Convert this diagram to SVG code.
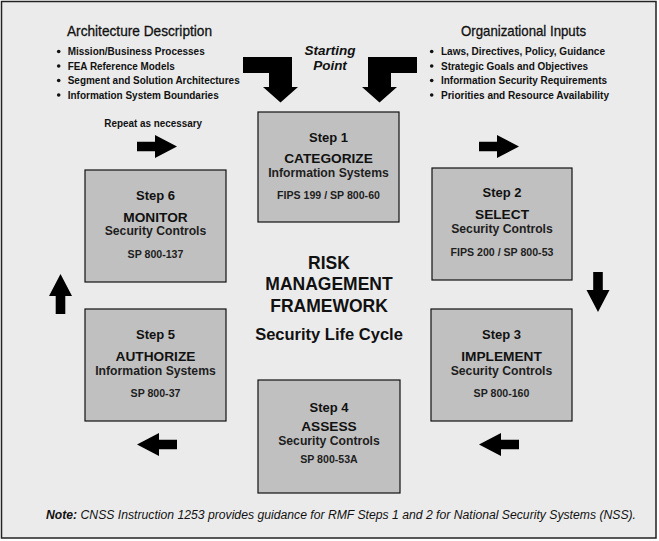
<svg xmlns="http://www.w3.org/2000/svg" xmlns:xlink="http://www.w3.org/1999/xlink" width="659" height="541" viewBox="0 0 659 541">
<style>
.frame{fill:#ebebeb;stroke:#222;stroke-width:1.5}
.box{fill:#c0c0c0;stroke:#111;stroke-width:1.2}
.t{font-family:"Liberation Sans",Arial,sans-serif;font-weight:bold;text-anchor:middle;fill:#111}
.step{font-size:13px}
.title{font-size:13.7px}
.sub{font-size:12.2px;fill:#1e1e1e}
.ref{font-size:10.6px;fill:#1e1e1e}
.hdr{font-family:"Liberation Sans Narrow","Liberation Sans",Arial,sans-serif;font-size:14.5px;fill:#111;stroke:#111;stroke-width:0.3}
.bl{font-family:"Liberation Sans Narrow","Liberation Sans",Arial,sans-serif;font-size:11.6px;font-weight:bold;fill:#111}
.dot{fill:#111}
.arr{fill:#000}
.center{font-family:"Liberation Sans",Arial,sans-serif;font-weight:bold;text-anchor:middle;fill:#111}
</style>
<defs>
<polygon id="sa" points="0,-4.8 18,-4.8 18,-11.5 40,0 18,11.5 18,4.8 0,4.8"/>
</defs>
<rect class="frame" x="1.5" y="1.5" width="654.5" height="536.5"/>

<g id="architecture-description">
<text class="hdr" x="67" y="36" textLength="145" lengthAdjust="spacingAndGlyphs">Architecture Description</text>
<circle class="dot" cx="58.7" cy="51.5" r="1.8"/>
<circle class="dot" cx="58.7" cy="66" r="1.8"/>
<circle class="dot" cx="58.7" cy="80.5" r="1.8"/>
<circle class="dot" cx="58.7" cy="95" r="1.8"/>
<text class="bl" x="67.7" y="55" textLength="137" lengthAdjust="spacingAndGlyphs">Mission/Business Processes</text>
<text class="bl" x="67.7" y="69.5" textLength="107" lengthAdjust="spacingAndGlyphs">FEA Reference Models</text>
<text class="bl" x="67.7" y="84" textLength="172" lengthAdjust="spacingAndGlyphs">Segment and Solution Architectures</text>
<text class="bl" x="67.7" y="98.5" textLength="151" lengthAdjust="spacingAndGlyphs">Information System Boundaries</text>
</g>

<g id="organizational-inputs">
<text class="hdr" x="461" y="36" textLength="125" lengthAdjust="spacingAndGlyphs">Organizational Inputs</text>
<circle class="dot" cx="431.7" cy="51.5" r="1.8"/>
<circle class="dot" cx="431.7" cy="66" r="1.8"/>
<circle class="dot" cx="431.7" cy="80.5" r="1.8"/>
<circle class="dot" cx="431.7" cy="95" r="1.8"/>
<text class="bl" x="441" y="55" textLength="164" lengthAdjust="spacingAndGlyphs">Laws, Directives, Policy, Guidance</text>
<text class="bl" x="441" y="69.5" textLength="147" lengthAdjust="spacingAndGlyphs">Strategic Goals and Objectives</text>
<text class="bl" x="441" y="84" textLength="166" lengthAdjust="spacingAndGlyphs">Information Security Requirements</text>
<text class="bl" x="441" y="98.5" textLength="168" lengthAdjust="spacingAndGlyphs">Priorities and Resource Availability</text>
</g>

<g id="starting-point">
<text class="center" font-style="italic" font-size="13.5" x="330" y="54.5">Starting</text>
<text class="center" font-style="italic" font-size="13.5" x="330" y="69.5">Point</text>
</g>

<g id="repeat-label">
<text class="bl" x="104.3" y="127" textLength="97.7" lengthAdjust="spacingAndGlyphs">Repeat as necessary</text>
</g>

<g id="connectors">
<polygon class="arr" points="243,57 292,57 292,87 298,87 280.5,102.5 263,87 269,87 269,73 243,73"/>
<polygon class="arr" points="417,57 368,57 368,87 362,87 379.5,102.5 397,87 391,87 391,73 417,73"/>
<use href="#sa" xlink:href="#sa" class="arr" transform="translate(137,146.5)"/>
<use href="#sa" xlink:href="#sa" class="arr" transform="translate(479,146.5)"/>
<use href="#sa" xlink:href="#sa" class="arr" transform="translate(598,272) rotate(90)"/>
<use href="#sa" xlink:href="#sa" class="arr" transform="translate(519,444.5) rotate(180)"/>
<use href="#sa" xlink:href="#sa" class="arr" transform="translate(177,444.5) rotate(180)"/>
<use href="#sa" xlink:href="#sa" class="arr" transform="translate(60.5,314) rotate(-90)"/>
</g>

<g id="step1">
<rect class="box" x="258" y="112" width="141" height="110"/>
<text class="t step" x="328.5" y="142">Step 1</text>
<text class="t title" x="328.5" y="163">CATEGORIZE</text>
<text class="t sub" x="328.5" y="177">Information Systems</text>
<text class="t ref" x="328.5" y="199">FIPS 199 / SP 800-60</text>
</g>

<g id="step2">
<rect class="box" x="432" y="168" width="140" height="112"/>
<text class="t step" x="502" y="197">Step 2</text>
<text class="t title" x="502" y="219">SELECT</text>
<text class="t sub" x="502" y="233">Security Controls</text>
<text class="t ref" x="502" y="256">FIPS 200 / SP 800-53</text>
</g>

<g id="step3">
<rect class="box" x="431" y="309" width="141" height="112"/>
<text class="t step" x="501.5" y="338.5">Step 3</text>
<text class="t title" x="501.5" y="361">IMPLEMENT</text>
<text class="t sub" x="501.5" y="374.5">Security Controls</text>
<text class="t ref" x="501.5" y="396.5">SP 800-160</text>
</g>

<g id="step4">
<rect class="box" x="258" y="380" width="142" height="113"/>
<text class="t step" x="329" y="411.5">Step 4</text>
<text class="t title" x="329" y="431">ASSESS</text>
<text class="t sub" x="329" y="444.5">Security Controls</text>
<text class="t ref" x="329" y="463">SP 800-53A</text>
</g>

<g id="step5">
<rect class="box" x="85" y="309" width="141" height="112"/>
<text class="t step" x="155.5" y="338.5">Step 5</text>
<text class="t title" x="155.5" y="361">AUTHORIZE</text>
<text class="t sub" x="155.5" y="374.5">Information Systems</text>
<text class="t ref" x="155.5" y="396.5">SP 800-37</text>
</g>

<g id="step6">
<rect class="box" x="85" y="170" width="141" height="112"/>
<text class="t step" x="155.5" y="200">Step 6</text>
<text class="t title" x="155.5" y="221.5">MONITOR</text>
<text class="t sub" x="155.5" y="235">Security Controls</text>
<text class="t ref" x="155.5" y="257.5">SP 800-137</text>
</g>

<g id="center-title">
<text class="center" font-size="17.5" x="329" y="268.5">RISK</text>
<text class="center" font-size="17.5" x="329" y="290">MANAGEMENT</text>
<text class="center" font-size="17.5" x="329" y="311.5">FRAMEWORK</text>
<text class="center" font-size="16.5" x="329" y="340">Security Life Cycle</text>
</g>

<g id="note">
<text font-family="'Liberation Sans Narrow','Liberation Sans',Arial,sans-serif" font-size="12" font-style="italic" fill="#111" x="46" y="519" textLength="590" lengthAdjust="spacingAndGlyphs"><tspan font-weight="bold">Note:</tspan> CNSS Instruction 1253 provides guidance for RMF Steps 1 and 2 for National Security Systems (NSS).</text>
</g>
</svg>
